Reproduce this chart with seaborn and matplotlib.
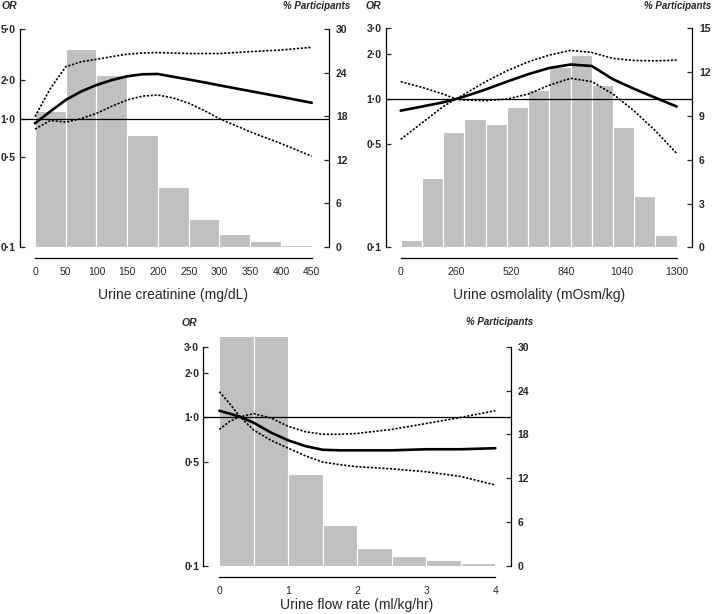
import numpy as np
import pandas as pd
import matplotlib
matplotlib.use("Agg")
import matplotlib.pyplot as plt
from matplotlib.ticker import FixedLocator, NullLocator
import seaborn as sns

# ---------------- data ----------------
# Panel 1: urine creatinine
cr_edges = [0, 50, 100, 150, 200, 250, 300, 350, 400, 450]
cr_pct = [18.7, 27.3, 23.7, 15.4, 8.2, 3.85, 1.74, 0.78, 0.23]
cr_x = [0, 25, 50, 75, 100, 125, 150, 175, 200, 225, 250, 275, 300, 350, 400, 450]
cr_or = [0.92, 1.14, 1.40, 1.63, 1.83, 2.00, 2.14, 2.22, 2.23, 2.12, 2.02, 1.92, 1.82, 1.64, 1.48, 1.33]
cr_hi = [1.04, 1.72, 2.54, 2.78, 2.90, 3.05, 3.18, 3.25, 3.27, 3.25, 3.22, 3.22, 3.22, 3.33, 3.43, 3.60]
cr_lo = [0.83, 0.97, 0.94, 1.00, 1.10, 1.25, 1.40, 1.50, 1.53, 1.45, 1.32, 1.16, 1.00, 0.79, 0.64, 0.51]
cr_xticks = [0, 50, 100, 150, 200, 250, 300, 350, 400, 450]
cr_xticklabels = ["0", "50", "100", "150", "200", "250", "300", "350", "400", "450"]

# Panel 2: urine osmolality
os_edges = [0, 100, 200, 300, 400, 500, 600, 700, 800, 900, 1000, 1100, 1200, 1300]
os_pct = [0.50, 4.75, 7.88, 8.81, 8.42, 9.63, 10.78, 12.37, 13.15, 11.14, 8.26, 3.54, 0.84]
os_x = [0, 100, 200, 260, 300, 400, 500, 600, 700, 800, 900, 1000, 1100, 1200, 1300]
os_or = [0.835, 0.89, 0.95, 1.00, 1.04, 1.16, 1.31, 1.47, 1.62, 1.71, 1.67, 1.36, 1.17, 1.02, 0.89]
os_lo = [1.31, 1.20, 1.08, 1.00, 0.985, 0.975, 1.00, 1.08, 1.24, 1.38, 1.31, 1.08, 0.83, 0.61, 0.43]
os_hi = [0.535, 0.69, 0.89, 1.00, 1.08, 1.31, 1.55, 1.78, 1.98, 2.13, 2.06, 1.88, 1.82, 1.81, 1.83]
os_xticks = [0, 260, 520, 780, 1040, 1300]
os_xticklabels = ["0", "260", "520", "840", "1040", "1300"]

# Panel 3: urine flow rate
fl_edges = [0, 0.5, 1.0, 1.5, 2.0, 2.5, 3.0, 3.5, 4.0]
fl_pct = [36.0, 35.0, 12.56, 5.57, 2.47, 1.32, 0.78, 0.37]
fl_x = [0, 0.15, 0.3, 0.5, 0.75, 1.0, 1.25, 1.5, 1.75, 2.0, 2.5, 3.0, 3.5, 4.0]
fl_or = [1.11, 1.06, 1.01, 0.92, 0.79, 0.70, 0.64, 0.605, 0.60, 0.60, 0.60, 0.61, 0.61, 0.62]
fl_lo = [1.49, 1.24, 1.01, 0.82, 0.70, 0.62, 0.55, 0.50, 0.48, 0.465, 0.45, 0.43, 0.40, 0.35]
fl_hi = [0.83, 0.94, 1.01, 1.06, 0.99, 0.87, 0.80, 0.77, 0.77, 0.78, 0.83, 0.91, 1.00, 1.11]
fl_xticks = [0, 1, 2, 3, 4]
fl_xticklabels = ["0", "1", "2", "3", "4"]

or_ticks_5 = [0.1, 0.5, 1.0, 2.0, 5.0]
or_labels_5 = ["0·1", "0·5", "1·0", "2·0", "5·0"]
or_ticks_3 = [0.1, 0.5, 1.0, 2.0, 3.0]
or_labels_3 = ["0·1", "0·5", "1·0", "2·0", "3·0"]
pct_ticks_30 = [0, 6, 12, 18, 24, 30]
pct_ticks_15 = [0, 3, 6, 9, 12, 15]

xlabels = ["Urine creatinine (mg/dL)", "Urine osmolality (mOsm/kg)", "Urine flow rate (ml/kg/hr)"]

# ---------------- style ----------------
sns.set_style("white")
plt.rcParams["font.family"] = ["Liberation Sans", "DejaVu Sans"]

W, H = 713, 614
fig = plt.figure(figsize=(W / 100, H / 100), dpi=100)

GREY = "#c0c0c0"
LW_SP = 0.9
TICK_FS = 7.5


def px_axes(l, t, r, b):
    return fig.add_axes([l / W, 1 - b / H, (r - l) / W, (b - t) / H])


def panel(box, edges, pct, x, orv, lo, hi, xlim, or_lim, or_ticks, or_labels,
          pct_lim, pct_ticks, xticks, xticklabels, xlabel, or_pos, part_pos, xlabel_pos):
    axp = px_axes(*box)
    centers = [(edges[i] + edges[i + 1]) / 2 for i in range(len(pct))]
    df = pd.DataFrame({"x": centers, "w": pct})
    sns.histplot(data=df, x="x", weights="w", bins=edges, ax=axp, color=GREY,
                 edgecolor="white", linewidth=0.8, alpha=1.0, stat="count")
    axp.set_xlim(*xlim)
    axp.set_ylim(*pct_lim)

    axo = axp.twinx()
    axo.set_yscale("log")
    axo.set_ylim(*or_lim)
    axo.axhline(1.0, color="black", lw=0.9, zorder=1)
    sns.lineplot(x=x, y=orv, ax=axo, color="black", lw=1.9, zorder=3)
    for s in (lo, hi):
        sns.lineplot(x=x, y=s, ax=axo, color="black", lw=1.2,
                     linestyle=(0, (1.3, 1.0)), zorder=3)
    axo.set_xlim(*xlim)

    # percentage axis on the right
    axp.yaxis.tick_right()
    axp.set_yticks(pct_ticks, [str(t) for t in pct_ticks], fontweight="bold")
    axp.set_xticks(xticks, xticklabels, fontweight="bold")
    axp.set_xlabel("")
    axp.set_ylabel("")
    axp.tick_params(axis="y", which="both", direction="in", length=3.6, width=LW_SP,
                    labelsize=TICK_FS, pad=5, right=True, left=False, labelright=True, labelleft=False)
    axp.tick_params(axis="x", direction="in", length=3.6, width=LW_SP, labelsize=TICK_FS, pad=6.5)
    for s in ("top", "left"):
        axp.spines[s].set_visible(False)
    axp.spines["right"].set_bounds(pct_ticks[0], pct_ticks[-1])
    axp.spines["right"].set_linewidth(LW_SP)
    axp.spines["bottom"].set_position(("outward", 8))
    axp.spines["bottom"].set_bounds(xticks[0], xticks[-1])
    axp.spines["bottom"].set_linewidth(LW_SP)
    for sp in axp.spines.values():
        sp.set_color("black")

    # OR axis on the left
    axo.yaxis.set_ticks_position("left")
    axo.set_yticks(or_ticks, or_labels, fontweight="bold")
    axo.yaxis.set_minor_locator(NullLocator())
    axo.set_ylabel("")
    axo.tick_params(axis="y", which="both", direction="in", length=3.6, width=LW_SP,
                    labelsize=TICK_FS, pad=3, left=True, right=False, labelleft=True, labelright=False)
    for s in ("top", "right", "bottom"):
        axo.spines[s].set_visible(False)
    axo.spines["left"].set_bounds(or_ticks[0], or_ticks[-1])
    axo.spines["left"].set_linewidth(LW_SP)
    axo.spines["left"].set_color("black")
    if axo.get_legend() is not None:
        axo.get_legend().remove()

    fig.text(or_pos[0] / W, 1 - or_pos[1] / H, "OR", ha="left", va="center",
             fontsize=7.5, fontweight="bold", fontstyle="italic")
    fig.text(part_pos[0] / W, 1 - part_pos[1] / H, "% Participants", ha="right", va="center",
             fontsize=7, fontweight="bold", fontstyle="italic")
    fig.text(xlabel_pos[0] / W, 1 - xlabel_pos[1] / H, xlabel, ha="center", va="center",
             fontsize=10)


# Panel 1
panel((20, 29, 329, 247), cr_edges, cr_pct, cr_x, cr_or, cr_lo, cr_hi,
      (-24.4, 478.1), (0.1, 5.0), or_ticks_5, or_labels_5,
      (0, 30), pct_ticks_30, cr_xticks, cr_xticklabels, xlabels[0],
      (1, 6), (350, 6), (173, 295))

# Panel 2
panel((386, 28.3, 692, 247.3), os_edges, os_pct, os_x, os_or, os_lo, os_hi,
      (-69.2, 1372.1), (0.1, 3.0), or_ticks_3, or_labels_3,
      (0, 15), pct_ticks_15, os_xticks, os_xticklabels, xlabels[1],
      (365, 6), (711, 6), (539, 295))

# Panel 3
panel((203.3, 336.7, 510.5, 565.7), fl_edges, fl_pct, fl_x, fl_or, fl_lo, fl_hi,
      (-0.232, 4.220), (0.1, 3.503), or_ticks_3, or_labels_3,
      (0, 31.37), pct_ticks_30, fl_xticks, fl_xticklabels, xlabels[2],
      (182, 323), (533, 322), (357, 605))

fig.savefig("out.png", dpi=100)
